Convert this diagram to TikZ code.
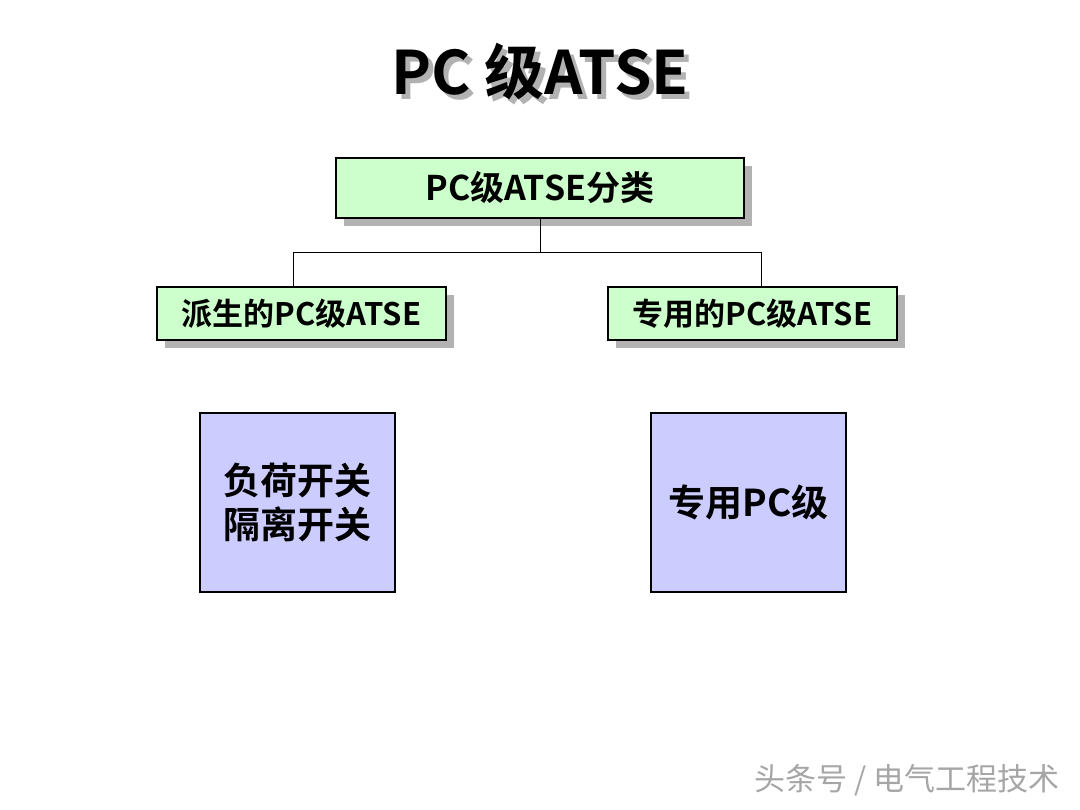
\documentclass[tikz,border=0pt]{standalone}
\usepackage{fontspec}
\setmainfont{Liberation Sans}
\newfontfamily\cjk{Noto Sans CJK SC}[BoldFont={* Bold}]
\begin{document}
\begin{tikzpicture}[x=1pt,y=-1pt,
  gbox/.style={draw=black,line width=1.2pt,fill=green!20,minimum height=60pt,inner sep=0pt},
  bbox/.style={draw=black,line width=1.2pt,fill=blue!20,inner sep=0pt,align=center},
  shad/.style={fill=gray!60,draw=none},
  txt/.style={font=\cjk\bfseries}]
\useasboundingbox (0,0) rectangle (1080,810);
\fill[white] (0,0) rectangle (1080,810);
% title
\node[txt,font=\cjk\bfseries\fontsize{60}{66}\selectfont,text=gray!60] at (545,77) {PC 级ATSE};
\node[txt,font=\cjk\bfseries\fontsize{60}{66}\selectfont] (title) at (540,72) {PC 级ATSE};
% shadows
\fill[shad] (344,166) rectangle (752,226);
\fill[shad] (165,295) rectangle (454,348);
\fill[shad] (616,295) rectangle (905,348);
% boxes
\node[gbox,minimum width=408pt,minimum height=60pt,font=\cjk\bfseries\fontsize{34}{38}\selectfont] (top) at (540,188) {PC级ATSE分类};
\node[gbox,minimum width=289pt,minimum height=53pt,font=\cjk\bfseries\fontsize{31}{34}\selectfont] (l) at (301.5,313.5) {派生的PC级ATSE};
\node[gbox,minimum width=289pt,minimum height=53pt,font=\cjk\bfseries\fontsize{31}{34}\selectfont] (r) at (752.5,313.5) {专用的PC级ATSE};
\draw[line width=1pt] (top.south) -- ++(0,34) coordinate (m);
\draw[line width=1pt] (l.north -| 293,0) |- (m) -| (r.north -| 761,0);
\node[bbox,minimum width=195pt,minimum height=179pt,font=\cjk\bfseries\fontsize{37}{44}\selectfont] (lb) at (297.5,502.5) {负荷开关\\隔离开关};
\node[bbox,minimum width=195pt,minimum height=179pt,font=\cjk\bfseries\fontsize{37}{44}\selectfont] (rb) at (748.5,502.5) {专用PC级};
\node[font=\cjk\fontsize{31}{34}\selectfont,text=gray!70] (wm) at (907,780) {头条号 / 电气工程技术};
\end{tikzpicture}
\end{document}
